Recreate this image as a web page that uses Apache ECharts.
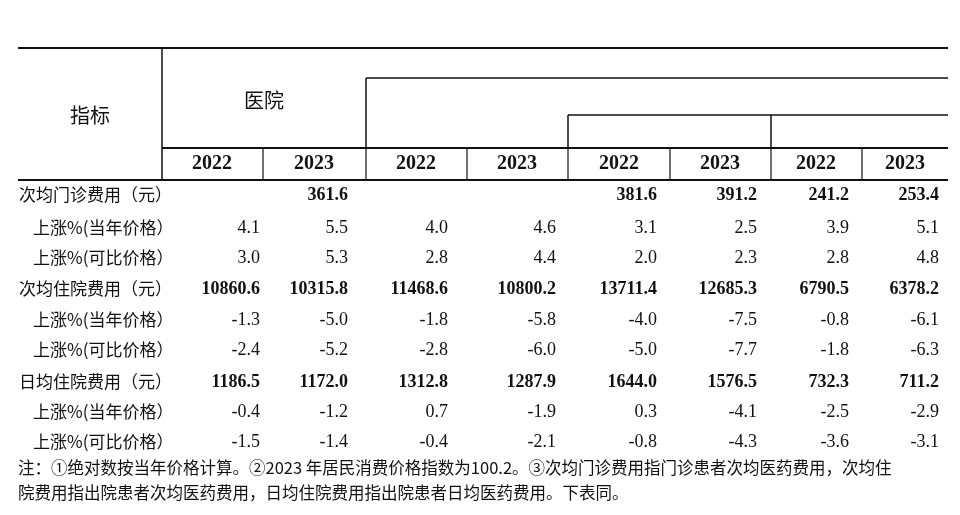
<!DOCTYPE html><html><head><meta charset="utf-8">
<script src="https://cdn.jsdelivr.net/npm/echarts@6/dist/echarts.min.js"></script>
<style>html,body{margin:0;background:#fff}#c{width:960px;height:515px}</style></head><body><div id="c"></div>
<script>
const years = ['2022','2023','2022','2023','2022','2023','2022','2023'];
const rowLabels = ['次均门诊费用（元）','上涨%(当年价格）','上涨%(可比价格）','次均住院费用（元）','上涨%(当年价格）','上涨%(可比价格）','日均住院费用（元）','上涨%(当年价格）','上涨%(可比价格）'];
const boldRows = [0,3,6];
const col1 = ['', '4.1','3.0','10860.6','-1.3','-2.4','1186.5','-0.4','-1.5'];
const col2 = ['361.6','5.5','5.3','10315.8','-5.0','-5.2','1172.0','-1.2','-1.4'];
const col3 = ['', '4.0','2.8','11468.6','-1.8','-2.8','1312.8','0.7','-0.4'];
const col4 = ['', '4.6','4.4','10800.2','-5.8','-6.0','1287.9','-1.9','-2.1'];
const col5 = ['381.6','3.1','2.0','13711.4','-4.0','-5.0','1644.0','0.3','-0.8'];
const col6 = ['391.2','2.5','2.3','12685.3','-7.5','-7.7','1576.5','-4.1','-4.3'];
const col7 = ['241.2','3.9','2.8','6790.5','-0.8','-1.8','732.3','-2.5','-3.6'];
const col8 = ['253.4','5.1','4.8','6378.2','-6.1','-6.3','711.2','-2.9','-3.1'];
const headerTop = '指标', headerHosp = '医院';
const notes = ['注：①绝对数按当年价格计算。②2023 年居民消费价格指数为100.2。③次均门诊费用指门诊患者次均医药费用，次均住','院费用指出院患者次均医药费用，日均住院费用指出院患者日均医药费用。下表同。'];
const cols = [col1,col2,col3,col4,col5,col6,col7,col8];

const colRight = [260,348,448,556,657,757,849,939];
const colCenter = [212,314,416,517,619,720,816,905];
const rowY = [195,228,258,289,320,350,382,412,442];
const lines = [[18,48,948,48,2],[162,48,162,180,1.5],[366,78,948,78,1.5],[366,78,366,148,1.5],[568,115,948,115,1.5],[568,115,568,148,1.5],[771,115,771,148,1.5],[162,148,948,148,2],[18,180,948,180,2],
 [263,148,263,180,1.2],[366,148,366,180,1.2],[467,148,467,180,1.2],[568,148,568,180,1.2],[670,148,670,180,1.2],[771,148,771,180,1.2],[862,148,862,180,1.2]];

const serif = 'Liberation Serif', cjk = 'Noto Sans CJK SC';
const texts = [];
texts.push([90,115,headerTop,'center',cjk,'normal',20]);
texts.push([264,100,headerHosp,'center',cjk,'normal',20]);
years.forEach((y,i)=>texts.push([colCenter[i],164,y,'center',serif,'bold',20]));
rowLabels.forEach((l,r)=>texts.push([boldRows.includes(r)?19:33,rowY[r],l,'left',cjk,'normal',17]));
cols.forEach((c,i)=>c.forEach((v,r)=>texts.push([colRight[i],rowY[r],v,'right',serif,boldRows.includes(r)?'bold':'normal',18])));
notes.forEach((n,i)=>texts.push([18,468+i*25,n,'left',cjk,'normal',16.5]));

const chart = echarts.init(document.getElementById('c'));
chart.setOption({
  animation:false,
  grid:{left:0,right:0,top:0,bottom:0},
  xAxis:{type:'value',min:0,max:960,show:false},
  yAxis:{type:'value',min:0,max:515,inverse:true,show:false},
  series:[
    {type:'custom',data:lines,renderItem:(p,api)=>{const a=api.coord([api.value(0),api.value(1)]),b=api.coord([api.value(2),api.value(3)]);
      return {type:'line',shape:{x1:a[0],y1:a[1],x2:b[0],y2:b[1]},style:{stroke:'#111',lineWidth:api.value(4)}};}},
    {type:'custom',data:texts,renderItem:(p,api)=>{const d=texts[p.dataIndex];const a=api.coord([d[0],d[1]]);
      return {type:'text',x:a[0],y:a[1],style:{text:d[2],align:d[3],verticalAlign:'middle',fontFamily:d[4],fontWeight:d[5],fontSize:d[6],fill:'#111'}};}}
  ]
});
</script></body></html>
